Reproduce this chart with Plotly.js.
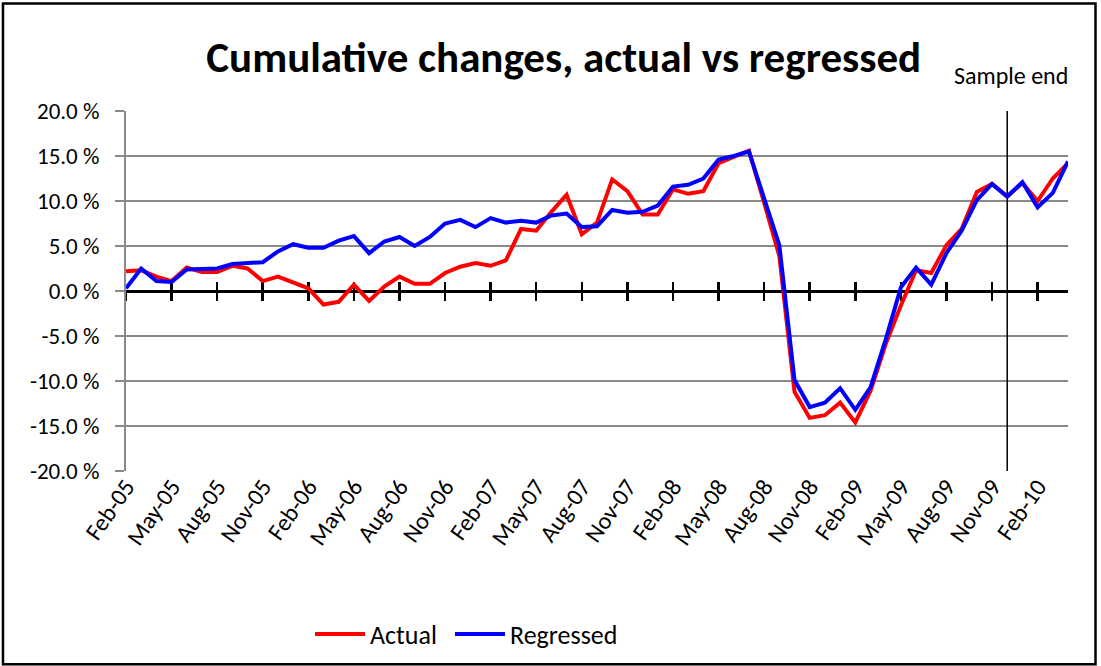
<!DOCTYPE html>
<html>
<head>
<meta charset="utf-8">
<script src="https://cdn.plot.ly/plotly-3.0.1.min.js"></script>
<style>
  html, body { margin: 0; padding: 0; background: #ffffff; }
  #chart { width: 1101px; height: 666px; }
</style>
</head>
<body>
<div id="chart"></div>
<script>
// Monthly categories, Feb-05 .. Apr-10
const months = [
  'Feb-05','Mar-05','Apr-05','May-05','Jun-05','Jul-05','Aug-05','Sep-05','Oct-05','Nov-05','Dec-05',
  'Jan-06','Feb-06','Mar-06','Apr-06','May-06','Jun-06','Jul-06','Aug-06','Sep-06','Oct-06','Nov-06','Dec-06',
  'Jan-07','Feb-07','Mar-07','Apr-07','May-07','Jun-07','Jul-07','Aug-07','Sep-07','Oct-07','Nov-07','Dec-07',
  'Jan-08','Feb-08','Mar-08','Apr-08','May-08','Jun-08','Jul-08','Aug-08','Sep-08','Oct-08','Nov-08','Dec-08',
  'Jan-09','Feb-09','Mar-09','Apr-09','May-09','Jun-09','Jul-09','Aug-09','Sep-09','Oct-09','Nov-09','Dec-09',
  'Jan-10','Feb-10','Mar-10','Apr-10'
];

// Cumulative change, actual (%)
const actual = [
  2.2, 2.3, 1.6, 1.1, 2.6, 2.1, 2.1, 2.8, 2.5, 1.1, 1.6,
  0.9, 0.3, -1.5, -1.2, 0.7, -1.1, 0.5, 1.6, 0.8, 0.8, 2.0, 2.7,
  3.1, 2.8, 3.4, 6.9, 6.7, 8.8, 10.7, 6.3, 7.6, 12.4, 11.1, 8.5,
  8.5, 11.3, 10.8, 11.1, 14.2, 14.9, 15.6, 9.8, 3.9, -11.2, -14.1, -13.8,
  -12.4, -14.6, -11.1, -5.9, -1.6, 2.3, 2.0, 5.1, 6.9, 11.0, 11.9, 10.5,
  12.0, 10.0, 12.5, 14.2
];

// Cumulative change, regressed (%)
const regressed = [
  0.3, 2.5, 1.1, 1.0, 2.4, 2.5, 2.5, 3.0, 3.1, 3.2, 4.4,
  5.2, 4.8, 4.8, 5.6, 6.1, 4.2, 5.5, 6.0, 5.0, 6.0, 7.5, 7.9,
  7.1, 8.1, 7.6, 7.8, 7.6, 8.4, 8.6, 7.1, 7.2, 9.0, 8.7, 8.8,
  9.5, 11.6, 11.8, 12.5, 14.6, 15.0, 15.5, 10.3, 5.1, -9.9, -12.9, -12.4,
  -10.8, -13.2, -10.7, -5.4, 0.4, 2.6, 0.7, 4.2, 6.7, 10.1, 11.9, 10.5,
  12.1, 9.3, 10.9, 14.4
];

const sampleEnd = 'Dec-09';
const sampleEndRange = [-20, 20];
const yTickVals = [-20, -15, -10, -5, 0, 5, 10, 15, 20];
const yTickText = yTickVals.map(v => v.toFixed(1) + ' %');

const FONT = 'Carlito, Calibri, Lato, sans-serif';

const traces = [
  { x: months, y: actual, xaxis: 'x2', mode: 'none', showlegend: false, hoverinfo: 'skip' },
  { x: months, y: actual, xaxis: 'x3', mode: 'none', showlegend: false, hoverinfo: 'skip' },
  { x: [sampleEnd, sampleEnd], y: sampleEndRange, type: 'scatter', mode: 'lines',
    line: { color: '#000000', width: 1.5 }, showlegend: false, hoverinfo: 'skip' },
  { x: months, y: actual, type: 'scatter', mode: 'lines', name: 'Actual',
    line: { color: '#ff0000', width: 4 }, legend: 'legend' },
  { x: months, y: regressed, type: 'scatter', mode: 'lines', name: 'Regressed',
    line: { color: '#0000ff', width: 4 }, legend: 'legend2' }
];

const zeroAxis = (ticks) => ({
  type: 'category', overlaying: 'x', anchor: 'free', position: 0.5,
  range: [0, months.length - 1], categoryorder: 'array', categoryarray: months,
  tickmode: 'linear', tick0: 0, dtick: 3,
  ticks: ticks, ticklen: 8, tickwidth: 2.5, tickcolor: '#000000',
  showticklabels: false, showgrid: false, zeroline: false,
  showline: true, linecolor: '#000000', linewidth: 3,
  layer: 'below traces', fixedrange: true
});

const legendStyle = (x) => ({
  orientation: 'h', xref: 'container', yref: 'container',
  x: x, xanchor: 'left', y: 0.048, yanchor: 'middle',
  font: { family: FONT, size: 26, color: '#000000' },
  itemwidth: 50, bgcolor: 'rgba(0,0,0,0)'
});

const layout = {
  width: 1101, height: 666,
  margin: { l: 126, r: 33, t: 111, b: 195 },
  paper_bgcolor: '#ffffff', plot_bgcolor: '#ffffff',
  font: { family: FONT, color: '#000000', size: 23 },
  title: {
    text: 'Cumulative changes, actual vs regressed',
    font: { family: FONT, size: 43, color: '#000000', weight: 'bold' },
    x: 0.512, xanchor: 'center', y: 0.915, yanchor: 'middle'
  },
  xaxis: {
    type: 'category', categoryorder: 'array', categoryarray: months,
    range: [0, months.length - 1],
    tickmode: 'linear', tick0: 0, dtick: 3,
    tickangle: -55, ticks: '', showline: false, showgrid: false, zeroline: false,
    tickfont: { family: FONT, size: 24, color: '#000000' },
    ticklabelstandoff: -4, fixedrange: true
  },
  xaxis2: zeroAxis('outside'),
  xaxis3: zeroAxis('inside'),
  yaxis: {
    range: [-20, 20], tickmode: 'array', tickvals: yTickVals, ticktext: yTickText,
    showgrid: true, gridcolor: '#8a8a8a', gridwidth: 1.5,
    zeroline: false, showline: true, linecolor: '#8a8a8a', linewidth: 2,
    ticks: 'outside', ticklen: 9, tickcolor: '#8a8a8a', tickwidth: 1.5,
    tickfont: { family: FONT, size: 23, color: '#000000' },
    ticklabelstandoff: 11, fixedrange: true
  },
  legend: legendStyle(0.2816),
  legend2: legendStyle(0.4087),
  annotations: [{
    text: 'Sample end', xref: 'paper', yref: 'paper', x: 1.002, y: 1.098,
    xanchor: 'right', yanchor: 'middle', showarrow: false,
    font: { family: FONT, size: 24, color: '#000000' }
  }],
  shapes: [{
    type: 'rect', xref: 'paper', yref: 'paper',
    x0: -0.1306, x1: 1.0292, y0: -0.5367, y1: 1.2986,
    line: { color: '#000000', width: 2.5 }, fillcolor: 'rgba(0,0,0,0)', layer: 'above'
  }],
  showlegend: true
};

Plotly.newPlot('chart', traces, layout, { displayModeBar: false, staticPlot: true });
</script>
</body>
</html>
